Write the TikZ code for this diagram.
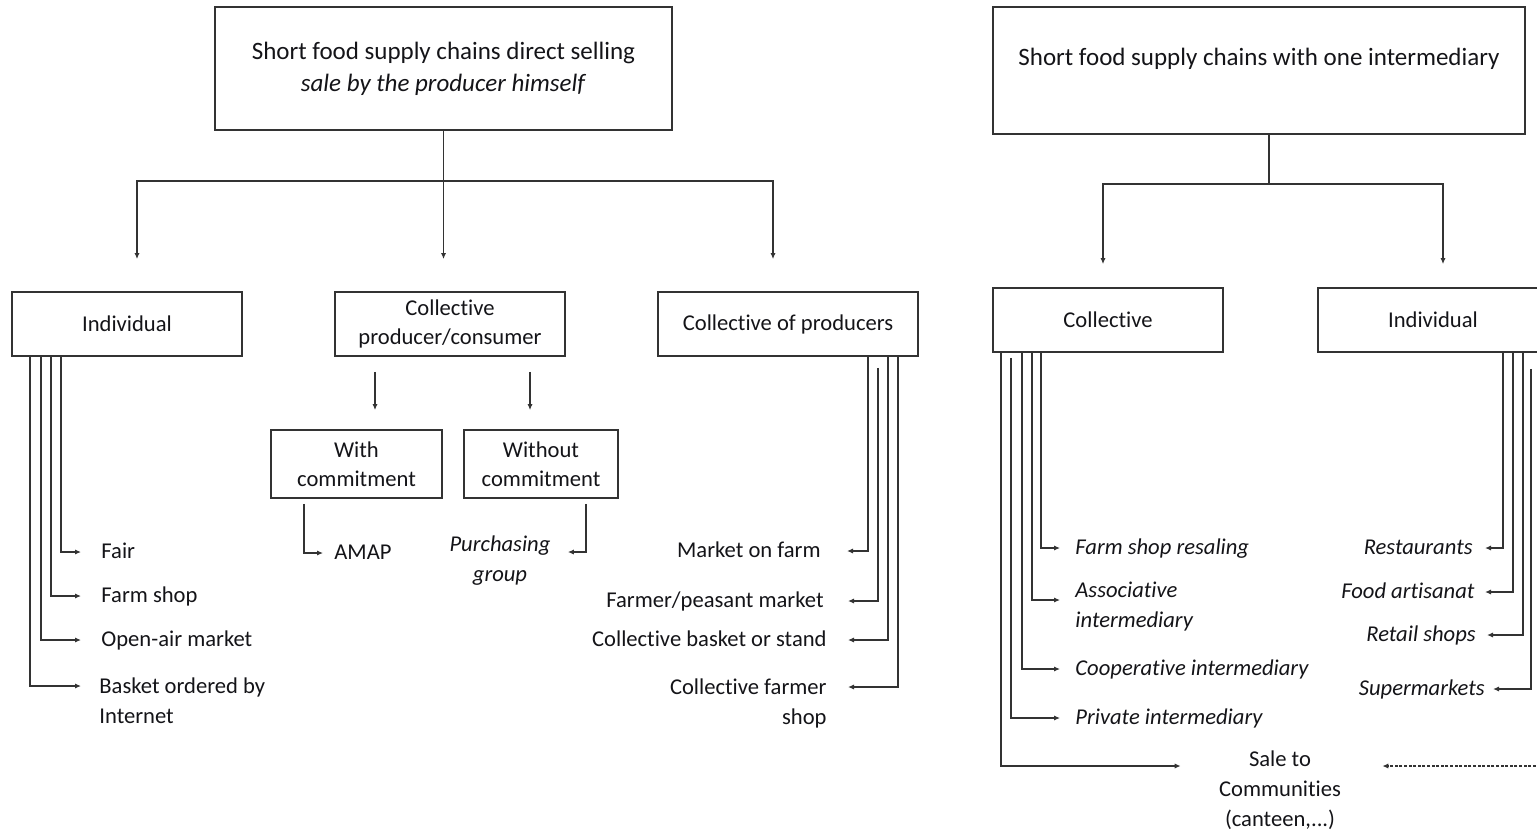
\documentclass[tikz,border=0pt]{standalone}
\usepackage{fontspec}
\setmainfont{Carlito}[Ligatures=NoCommon]
\usepackage{xcolor}
\definecolor{ink}{HTML}{141418}
\definecolor{wire}{HTML}{333333}
\usepackage{tikz}
\usetikzlibrary{arrows.meta, positioning, calc}

\begin{document}
\begin{tikzpicture}[x=0.5pt, y=-0.5pt,
  >={Latex[length=3pt,width=2.6pt]},
  box/.style={draw=wire, line width=0.9pt, align=center, inner sep=0pt,
    minimum width=115pt, minimum height=32pt, text=ink,
    font=\fontsize{11.3}{14.5}\selectfont},
  head/.style={box, font=\fontsize{12.5}{16}\selectfont},
  lbl/.style={inner sep=0pt, text=ink, text height=8pt, text depth=1.5pt,
    font=\fontsize{11.3}{15}\selectfont},
  ilbl/.style={lbl, font=\fontsize{11.3}{15}\selectfont\itshape},
  mlbl/.style={inner sep=0pt, text=ink, font=\fontsize{11.3}{15}\selectfont},
  imlbl/.style={mlbl, font=\fontsize{11.3}{15}\selectfont\itshape},
  link/.style={draw=wire, line width=0.8pt},
  arr/.style={link, ->}]

  \useasboundingbox (0,0) rectangle (1537,832);
  \clip (0,0) rectangle (1537,832);

  % heads
  \node[head, minimum width=228.5pt, minimum height=61.5pt] (direct) at (443.5,68.5)
        {Short food supply chains direct selling\\\textit{sale by the producer himself}};
  \node[head, minimum width=266pt, minimum height=63.5pt] (inter) at (1259,70.5)
        {Short food supply chains with one intermediary\\[-7pt]\strut};

  % second row
  \node[box] (indL) at (127,324) {Individual};
  \node[box] (colPC) at (450,324) {Collective\\producer/consumer};
  \node[box, minimum width=130pt] (colP) at (788,324) {Collective of producers};
  \node[box] (colR) at (1108,320) {Collective};
  \node[box] (indR) at (1433,320) {Individual};

  \node[box, minimum width=85.5pt, minimum height=34pt] (with) at (356.5,464)
        {With\\commitment};
  \node[box, minimum width=77pt, minimum height=34pt] (without) at (541,464)
        {Without\\commitment};

  % forks
  \coordinate (fork1) at (443.5,181);
  \coordinate (fork2) at (1269,184);
  \draw[link] (direct.south) -- (fork1);
  \draw[arr, shorten >=16pt] (fork1) -- (fork1 |- colPC.north);
  \draw[arr, shorten >=16pt] (fork1) -| ([xshift=5pt]indL.north);
  \draw[arr, shorten >=16pt] (fork1) -| ([xshift=-7.5pt]colP.north);

  \draw[link] ([xshift=5pt]inter.south) -- (fork2);
  \draw[arr, shorten >=11.5pt] (fork2) -| ([xshift=-2.5pt]colR.north);
  \draw[arr, shorten >=11.5pt] (fork2) -| ([xshift=5pt]indR.north);

  \draw[arr, shorten <=7.5pt, shorten >=9.5pt]
    ([xshift=-37.5pt]colPC.south) -- ([xshift=-37.5pt]colPC.south |- with.north);
  \draw[arr, shorten <=7.5pt, shorten >=9.5pt]
    ([xshift=40pt]colPC.south) -- ([xshift=40pt]colPC.south |- without.north);

  % individual (left)
  \node[lbl, anchor=west] (fair) at (101,552) {Fair};
  \node[lbl, anchor=west] (farmshop) at (101,596) {Farm shop};
  \node[lbl, anchor=west] (openair) at (101,640) {Open-air market};
  \node[mlbl, anchor=north west, align=left] (basket) at (99,677)
        {Basket ordered by\\Internet};
  \draw[arr, shorten >=10pt] ([xshift=25pt]indL.south west) |- (fair.west);
  \draw[arr, shorten >=10pt] ([xshift=20pt]indL.south west) |- (farmshop.west);
  \draw[arr, shorten >=10pt] ([xshift=15pt]indL.south west) |- (openair.west);
  \draw[arr, shorten >=9pt] ([xshift=9.5pt]indL.south west) |- ([yshift=-4.5pt]basket.north west);

  % collective producer/consumer
  \node[lbl, anchor=west] (amap) at (334,553) {AMAP};
  \node[imlbl, align=center] (purch) at (500,561) {Purchasing\\group};
  \draw[arr, shorten <=2.5pt, shorten >=5.5pt] ([xshift=17pt]with.south west) |- (amap.west);
  \draw[arr, shorten <=2.5pt, shorten >=8.5pt]
    ([xshift=-16.5pt]without.south east) |- ([yshift=4.5pt]purch.east);

  % collective of producers
  \node[lbl, anchor=east] (mfarm) at (821,551) {Market on farm};
  \node[lbl, anchor=east] (fpm) at (824,601) {Farmer/peasant market};
  \node[lbl, anchor=east] (cbs) at (827,640) {Collective basket or stand};
  \node[mlbl, anchor=north east, align=right] (cfs) at (827,678) {Collective farmer\\shop};
  \draw[arr, shorten >=13pt] ([xshift=-25.5pt]colP.south east) |- (mfarm.east);
  \draw[arr, shorten <=5.5pt, shorten >=12pt] ([xshift=-20.5pt]colP.south east) |- (fpm.east);
  \draw[arr, shorten >=10.5pt] ([xshift=-15.5pt]colP.south east) |- (cbs.east);
  \draw[arr, shorten >=10.5pt] ([xshift=-10.5pt]colP.south east) |- ([yshift=-4.5pt]cfs.north east);

  % collective (right)
  \node[ilbl, anchor=west] (fsr) at (1075,548) {Farm shop resaling};
  \node[imlbl, anchor=north west, align=left] (assoc) at (1075,582) {Associative\\intermediary};
  \node[ilbl, anchor=west] (coop) at (1075,669) {Cooperative intermediary};
  \node[ilbl, anchor=west] (priv) at (1075,718) {Private intermediary};
  \node[mlbl, anchor=north, align=center] (sale) at (1280,750)
        {Sale to\\Communities\\(canteen,...)};
  \draw[arr, shorten >=7.5pt] ([xshift=24.5pt]colR.south west) |- (fsr.west);
  \draw[arr, shorten >=7.5pt] ([xshift=20pt]colR.south west) |- ([yshift=-9pt]assoc.north west);
  \draw[arr, shorten >=7.5pt] ([xshift=15pt]colR.south west) |- (coop.west);
  \draw[arr, shorten <=2.5pt, shorten >=7.5pt] ([xshift=9.5pt]colR.south west) |- (priv.west);
  \draw[arr, shorten >=19pt] ([xshift=4.5pt]colR.south west) |- ([yshift=-8pt]sale.north west);

  % individual (right)
  \node[ilbl, anchor=east] (rest) at (1473,548) {Restaurants};
  \node[ilbl, anchor=east] (fart) at (1475,592) {Food artisanat};
  \node[ilbl, anchor=east] (retail) at (1476,635) {Retail shops};
  \node[ilbl, anchor=east] (super) at (1485,689) {Supermarkets};
  \draw[arr, shorten >=6pt] ([xshift=93pt]indR.south west) |- (rest.east);
  \draw[arr, shorten >=5pt] ([xshift=98pt]indR.south west) |- (fart.east);
  \draw[arr, shorten >=5.5pt] ([xshift=103pt]indR.south west) |- (retail.east);
  \draw[arr, shorten <=8pt, shorten >=4pt] ([xshift=107pt]indR.south west) |- (super.east);

  \coordinate (offR) at (1545,766);
  \draw[arr, dash pattern=on 1.5pt off 0.8pt, shorten >=20.5pt] (offR) -- ([yshift=-8pt]sale.north east);

\end{tikzpicture}
\end{document}
